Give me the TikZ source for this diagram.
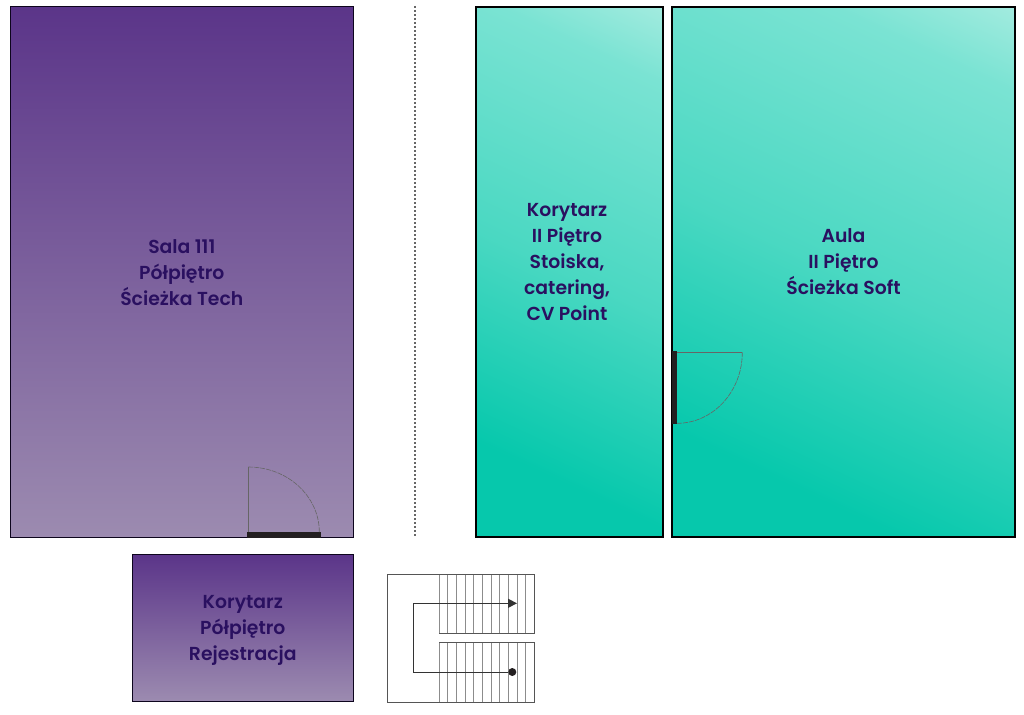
\documentclass[tikz,border=0pt]{standalone}
\usepackage{fontspec}
\setmainfont{Poppins}[BoldFont={Poppins SemiBold}]
\usetikzlibrary{positioning,arrows.meta}
\definecolor{violetTop}{HTML}{5B3589}
\definecolor{violetBot}{HTML}{9C8BB0}
\definecolor{mintTop}{HTML}{B0EEE3}
\definecolor{mintUp}{HTML}{7AE3D3}
\definecolor{mintMid}{HTML}{4AD8C2}
\definecolor{mintBot}{HTML}{06C8AC}
\definecolor{inkViolet}{HTML}{2A1060}
\definecolor{barInk}{HTML}{231F20}
\definecolor{stairInk}{HTML}{555555}
\pgfdeclareverticalshading{mintfade}{100bp}{color(0bp)=(mintBot); color(27bp)=(mintBot); color(50bp)=(mintMid); color(75bp)=(mintUp); color(86bp)=(mintTop); color(100bp)=(mintTop)}
\begin{document}
\begin{tikzpicture}[
        x = 1pt, y = -1pt,
        room/.style = {draw, anchor = north west, inner sep = 0, outer sep = 0},
        techroom/.style = {room, draw = black!70!inkViolet, line width = .8pt, top color = violetTop, bottom color = violetBot},
        softroom/.style = {room, line width = 1.8pt, shade, shading = mintfade, shading angle = -25},
        label/.style = {align = center, text = inkViolet, font = \fontsize{18.8}{26}\selectfont\bfseries},
        doorbar/.style = {fill = barInk, draw = none, anchor = north west, inner sep = 0, outer sep = 0},
        swing/.style = {draw = black!60, line width = .6pt},
        tread/.style = {draw = black!45, line width = 1pt},
        stairwall/.style = {draw = stairInk, line width = 1pt},
      ]
        \useasboundingbox (0,0) rectangle (1024,714);
        % rooms
        \node[techroom, minimum width = 343.6pt, minimum height = 531pt] (sala) at (10,6.5) {};
        \node[techroom, minimum width = 221.6pt, minimum height = 147pt] (hall) at (132,554.5) {};
        \node[softroom, minimum width = 187pt, minimum height = 530pt] (corridor) at (476,7) {};
        \node[softroom, minimum width = 343pt, minimum height = 530pt] (aula) at (672,7) {};
        \node[label, yshift = -.7pt] (salaText) at (sala.center) {Sala 111\\Półpiętro\\Ścieżka Tech};
        \node[label, yshift = -2.5pt] (hallText) at (hall.center) {Korytarz\\Półpiętro\\Rejestracja};
        \node[label, xshift = -2.5pt, yshift = 9.7pt] (corridorText) at (corridor.center) {Korytarz\\II Piętro\\Stoiska,\\catering,\\CV Point};
        \node[label, yshift = 10.2pt] (aulaText) at (aula.center) {Aula\\II Piętro\\Ścieżka Soft};
        % divider
        \coordinate (divTop) at (414.5,6);
        \coordinate (divBot) at (414.5,537);
        \draw[black!60, line width = 2pt, dash pattern = on 2pt off 2pt] (divTop) -- (divBot);
        % doors
        \node[doorbar, minimum width = 74pt, minimum height = 5.5pt] (barTech) at (246.7,532) {};
        \node[doorbar, minimum width = 5pt, minimum height = 73.5pt] (barSoft) at (672.3,350.7) {};
        \draw[swing] (248.3,532) -- (248.3,467);
        \draw[swing, dash pattern = on 5pt off 1pt] (248.3,467) arc[start angle = 90, end angle = 0, x radius = 71pt, y radius = 65pt];
        \draw[swing] (677,352.3) -- (742.3,352.3);
        \draw[swing, dash pattern = on 5pt off 1pt] (742.3,352.3) arc[start angle = 0, end angle = -90, x radius = 65.3pt, y radius = 71pt];
        % stairs
        \foreach \i in {0,...,10} {
          \draw[tread] (439+8.68*\i,574) -- (439+8.68*\i,633);
          \draw[tread] (439+8.68*\i,642.3) -- (439+8.68*\i,702);
        }
        \draw[stairwall] (439,633) -- (534,633) -- (534,574) -- (387.5,574) -- (387.5,702) -- (534,702) -- (534,642.3) -- (439,642.3);
        \node[circle, fill = barInk, minimum size = 8pt, inner sep = 0] (start) at (512.3,672) {};
        \coordinate (arrowEnd) at (517,603.3);
        \draw[stairInk!60!black, line width = 1pt, -{Triangle[length = 9pt, width = 9pt]}] (start) -- (413,672) -- (413,603.3) -- (arrowEnd);
      \end{tikzpicture}
\end{document}
